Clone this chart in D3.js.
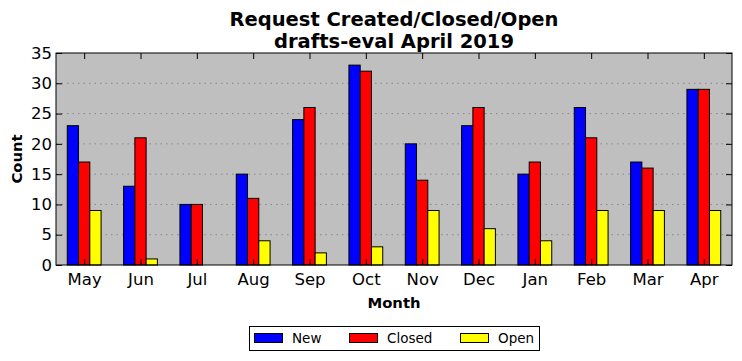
<!DOCTYPE html>
<html><head><meta charset="utf-8">
<script src="https://cdn.jsdelivr.net/npm/d3@7"></script>
<style>body{margin:0;background:#fff;} text{font-family:"DejaVu Sans",sans-serif;}</style>
</head><body>
<svg id="c" width="742" height="361"></svg>
<script>
const months = ["May","Jun","Jul","Aug","Sep","Oct","Nov","Dec","Jan","Feb","Mar","Apr"];
const newVals = [23,13,10,15,24,33,20,23,15,26,17,29];
const closedVals = [17,21,10,11,26,32,14,26,17,21,16,29];
const openVals = [9,1,0,4,2,3,9,6,4,9,9,9];
const seriesNames = ["New","Closed","Open"];
const seriesColors = ["#0000ff","#ff0000","#ffff00"];
const yTicks = [0,5,10,15,20,25,30,35];

const series = [newVals, closedVals, openVals];
const svg = d3.select("#c");
const L=56, R=732, T=53, B=265;
const x = d3.scaleLinear().domain([-0.5, 11.5]).range([L, R]);
const y = d3.scaleLinear().domain([0, 35]).range([B, T]);
const bw = 0.2;

svg.append("rect").attr("x",L).attr("y",T).attr("width",R-L).attr("height",B-T).attr("fill","#bfbfbf");

// grid
svg.append("g").selectAll("line").data(yTicks.filter(d=>d>0&&d<35)).join("line")
  .attr("x1",L).attr("x2",R).attr("y1",d=>y(d)).attr("y2",d=>y(d))
  .attr("stroke","#888").attr("stroke-width",1).attr("stroke-dasharray","1.5,4");

// bars
series.forEach((vals, s) => {
  svg.append("g").selectAll("rect").data(vals).join("rect")
    .attr("x", (d,i)=>x(i + (s-1.5)*bw))
    .attr("width", x(bw)-x(0))
    .attr("y", d=>y(d))
    .attr("height", d=>y(0)-y(d))
    .attr("fill", seriesColors[s])
    .attr("stroke","#000").attr("stroke-width",1);
});

// axes
const xAxis = d3.axisBottom(x).tickValues(d3.range(12)).tickFormat(i=>months[i]).tickSizeInner(-6).tickSizeOuter(0).tickPadding(8);
const gx = svg.append("g").attr("transform",`translate(0,${B})`).call(xAxis);
gx.select(".domain").remove();
gx.selectAll("text").attr("font-size",16.5).attr("fill","#000").attr("font-family","DejaVu Sans");
const xTop = d3.axisTop(x).tickValues(d3.range(12)).tickFormat("").tickSizeInner(-6).tickSizeOuter(0);
const gxt = svg.append("g").attr("transform",`translate(0,${T})`).call(xTop);
gxt.select(".domain").remove();

const yAxis = d3.axisLeft(y).tickValues(yTicks).tickSizeInner(-6).tickSizeOuter(0).tickPadding(4);
const gy = svg.append("g").attr("transform",`translate(${L},0)`).call(yAxis);
gy.select(".domain").remove();
gy.selectAll("text").attr("font-size",16.5).attr("fill","#000").attr("font-family","DejaVu Sans");
const yRight = d3.axisRight(y).tickValues(yTicks).tickFormat("").tickSizeInner(-6).tickSizeOuter(0);
const gyr = svg.append("g").attr("transform",`translate(${R},0)`).call(yRight);
gyr.select(".domain").remove();

svg.append("rect").attr("x",L).attr("y",T).attr("width",R-L).attr("height",B-T).attr("fill","none").attr("stroke","#000").attr("stroke-width",1);

// titles
const cx = (L+R)/2;
svg.append("text").attr("x",cx).attr("y",26).attr("text-anchor","middle").attr("font-size",19.5).attr("font-weight","bold").text("Request Created/Closed/Open");
svg.append("text").attr("x",cx).attr("y",48).attr("text-anchor","middle").attr("font-size",19.5).attr("font-weight","bold").text("drafts-eval April 2019");
svg.append("text").attr("x",cx).attr("y",308).attr("text-anchor","middle").attr("font-size",14.8).attr("font-weight","bold").text("Month");
svg.append("text").attr("transform",`translate(22,${(T+B)/2}) rotate(-90)`).attr("text-anchor","middle").attr("font-size",14.8).attr("font-weight","bold").text("Count");

// legend
const lg = svg.append("g");
lg.append("rect").attr("x",249.5).attr("y",326.5).attr("width",290).attr("height",24).attr("fill","#fff").attr("stroke","#000");
const lx = [254, 349, 460];
seriesNames.forEach((n,i)=>{
  lg.append("rect").attr("x",lx[i]+0.5).attr("y",333.5).attr("width",28).attr("height",9).attr("fill",seriesColors[i]).attr("stroke","#000");
  lg.append("text").attr("x",lx[i]+38).attr("y",343).attr("font-size",13.5).text(n);
});
</script>
</body></html>
